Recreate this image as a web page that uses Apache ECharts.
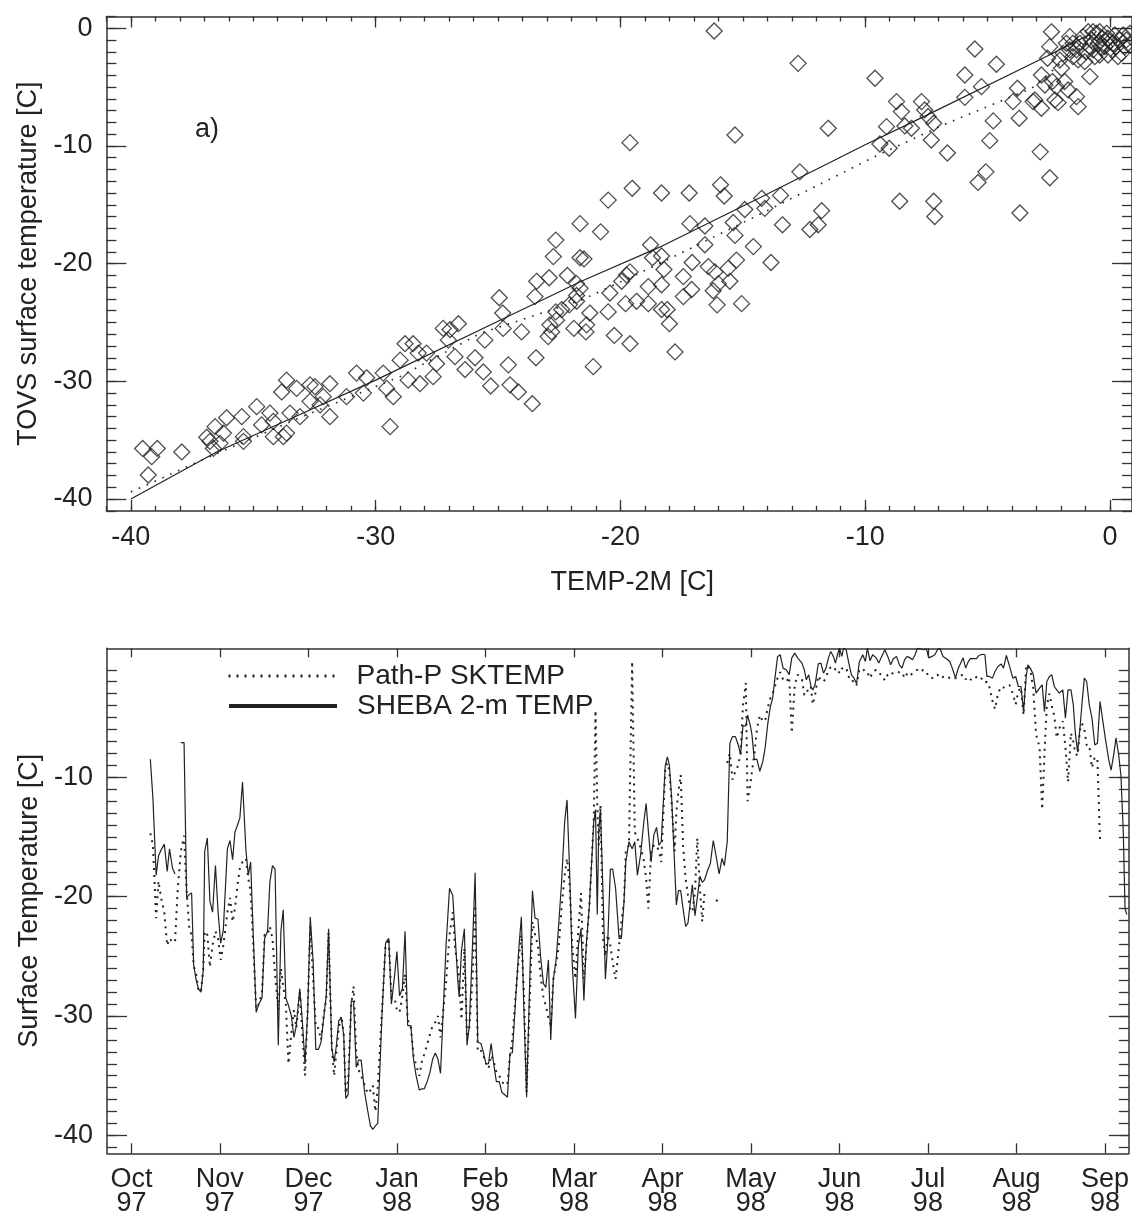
<!DOCTYPE html>
<html><head><meta charset="utf-8">
<script src="https://cdn.jsdelivr.net/npm/echarts@6/dist/echarts.min.js"></script>
<style>html,body{margin:0;padding:0;background:#fff}#c{width:1132px;height:1217px}</style>
</head><body><div id="c"></div>
<script>
// ---------- panel a) scatter ----------
const tovsX = [
-39.52,-38.92,-39.15,-39.29,-37.92,-36.9,-36.56,-36.77,-36.63,-36.36,-36.22,-36.09,-35.47,-35.4,-35.4,-34.86,-34.66,-34.32,-34.18,-34.18,
-33.84,-33.64,-33.77,-33.64,-33.5,-33.23,-33.09,-32.68,-32.68,-32.48,-32.27,-32.14,-31.87,-31.87,-31.19,-30.78,-30.5,-30.37,-29.69,-29.55,
-29.41,-29.28,-29.0,-28.8,-28.67,-28.47,-28.26,-28.19,-27.92,-27.65,-27.51,-27.24,-27.03,-26.96,-26.76,-26.62,-26.35,-25.94,
-16.17,-12.74,-9.6,-19.61,-15.32,-11.51,-19.52,-20.5,-18.32,-17.19,-15.91,-15.76,-12.67,-13.46,-14.23,-14.1,-14.92,-11.78,-11.92,-12.26,
-13.38,-15.39,-15.32,-16.55,-17.16,-16.55,-18.77,-18.32,-18.22,-18.69,-15.26,-14.57,-13.85,-17.07,-16.41,-16.14,-16.0,-15.6,-15.53,-16.21,
-16.05,-15.05,-17.43,-17.09,-17.43,-18.32,-18.32,-18.09,-18.0,-17.77,-18.86,-18.86,-19.34,-19.75,-19.61,-19.95,-19.79,-20.43,-20.5,-20.25,
-19.61,-21.11,-21.65,-20.81,-22.64,-22.74,-22.91,-22.17,-21.65,-21.49,-23.42,-23.49,-24.95,-24.81,-24.79,-24.04,-22.64,-22.4,-22.09,-21.79,
-21.65,-21.79,-21.79,-21.25,-21.38,-21.41,-21.9,-22.88,-22.95,-22.81,-22.61,-25.54,-25.6,-25.3,-24.58,-24.51,-24.17,-23.6,-23.45,
-5.52,-4.64,-5.93,-5.25,-5.93,-3.78,-3.96,-3.71,-4.77,-4.91,-6.64,-2.85,-5.07,-5.39,-2.46,-3.68,-8.59,-7.2,-7.16,
-8.72,-9.13,-9.4,-9.02,-8.52,-8.38,-8.11,-7.7,-7.57,-7.43,-7.2,-7.3,-2.39,-2.46,-2.55,-2.8,-2.66,-2.35,-2.19,-2.25,
-3.07,-3.14,-2.8,-2.12,-1.85,-1.71,-1.64,-1.51,-1.37,-1.3,-1.03,-0.82,-1.98,-2.05,
-1.23,-1.1,-0.89,-0.76,-0.69,-0.55,-0.48,-0.42,-0.31,-0.21,-0.14,-0.08,-0.01,0.1,0.2,0.26,0.33,0.4,0.54,0.6,
0.67,0.81,0.84,-0.62,-0.82,-0.96,-1.37,-1.3,-0.35,0.13,0.47,-0.42,-0.08,-0.69,-1.51,-1.64,-1.91,-1.78
];
const tovsY = [
-35.7,-35.7,-36.4,-37.96,-36.0,-34.75,-33.85,-35.1,-35.7,-35.27,-34.4,-33.1,-33.0,-34.7,-35.1,-32.15,-33.7,-32.7,-33.4,-34.7,
-30.9,-29.9,-34.7,-34.4,-32.7,-30.6,-33.0,-30.3,-31.7,-30.45,-32.0,-31.3,-30.2,-33.0,-31.3,-29.3,-31.0,-29.7,-29.3,-30.6,
-33.85,-31.3,-28.2,-26.8,-29.9,-26.8,-27.6,-30.2,-27.6,-29.6,-28.5,-25.5,-26.5,-25.6,-27.9,-25.1,-29.0,-28.0,
-0.23,-2.98,-4.25,-9.72,-9.07,-8.5,-13.6,-14.6,-14.0,-14.0,-13.3,-14.25,-12.2,-14.2,-14.45,-15.3,-15.4,-15.5,-16.7,-17.1,
-16.7,-16.5,-17.6,-16.8,-16.6,-18.4,-18.4,-19.35,-20.5,-19.5,-19.7,-18.55,-19.9,-19.9,-20.25,-20.7,-21.7,-20.4,-21.5,-22.3,
-23.5,-23.4,-21.1,-22.2,-22.8,-21.8,-23.9,-23.9,-25.1,-27.5,-21.95,-23.4,-23.2,-20.96,-20.7,-21.5,-23.4,-22.5,-24.1,-26.1,
-26.8,-28.75,-16.6,-17.3,-18.0,-19.4,-21.2,-21.0,-19.5,-19.6,-21.5,-22.8,-22.9,-24.2,-25.5,-25.8,-24.1,-23.9,-23.5,-21.7,
-22.1,-22.7,-23.2,-24.2,-25.2,-25.8,-25.5,-25.2,-26.2,-25.8,-24.8,-26.5,-29.2,-30.4,-28.6,-30.3,-30.9,-31.9,-28.0,
-1.76,-3.06,-3.97,-4.96,-5.87,-5.1,-6.23,-7.65,-7.87,-9.55,-10.6,-10.5,-12.2,-13.1,-12.7,-15.7,-14.7,-14.7,-16.0,
-6.23,-8.36,-9.83,-10.2,-7.08,-8.3,-8.5,-6.23,-6.94,-7.5,-8.07,-9.5,-0.3,-1.56,-2.55,-3.97,-4.82,-4.53,-4.96,-6.09,
-6.09,-6.23,-6.8,-6.32,-4.53,-5.24,-0.71,-2.41,-5.81,-6.66,-2.84,-4.11,-3.4,-2.7,
-1.28,-0.71,-0.29,-0.99,-1.84,-0.43,-1.28,-2.27,-0.85,-1.56,-0.43,-2.27,-1.14,-1.84,-0.57,-1.56,-2.41,-0.99,-0.57,-1.56,
-0.99,-0.43,-1.42,-2.41,-1.56,-1.98,-1.84,-2.69,-1.7,-1.28,-2.13,-0.29,-0.85,-0.29,-1.28,-1.84,-2.13,-1.28
];
const fitSolidX = [-40,-36.5,-33.5,-30,-25,-21.6,-18.4,-14.2,-10,-7.5,-2.7,-0.8];
const fitSolidY = [-40,-36,-33.2,-29.9,-24.9,-21.5,-18.6,-14.3,-9.9,-7.4,-2.5,-0.5];
const fitDotX = [-40,-37,-33,-29,-25.7,-21.6,-18.4,-14.2,-9.6,-6.8,-3.2,-1.9,-0.8];
const fitDotY = [-39.4,-36.6,-33.0,-29.6,-25.9,-23.1,-20.0,-15.7,-10.9,-8.2,-5.1,-2.8,-1.0];
const aTicks = [-40,-30,-20,-10,0];

// ---------- panel b) time series (x: days after 1 Oct 1997) ----------
const dayOfYear = [
6.5,7.4,8.5,9.3,10.2,11.3,12.3,13.1,14.1,15.0,15.9,17.0,18.1,19.0,19.9,20.7,21.4,22.2,23.0,23.9,
24.7,25.2,26.1,27.0,27.9,28.9,29.8,30.7,31.6,33.0,33.9,34.8,35.6,36.5,37.3,38.2,39.4,40.2,41.0,41.9,
42.9,43.8,44.9,45.8,46.8,47.6,48.5,49.4,50.5,51.4,52.2,53.1,54.0,55.0,55.9,56.7,57.9,58.8,59.7,60.6,
61.5,62.5,63.4,64.3,65.2,66.1,67.0,67.8,68.9,69.7,70.5,71.3,72.2,73.0,73.7,74.5,75.6,76.4,77.3,78.1,
79.0,80.2,81.3,82.2,83.0,83.9,84.7,86.2,87.4,88.5,89.4,90.5,91.3,92.2,93.2,94.1,95.0,96.1,97.0,97.9,
99.0,99.9,100.7,101.7,102.7,103.6,104.5,105.4,106.3,108.2,109.4,110.5,111.3,112.2,112.7,113.5,114.5,115.4,116.2,117.3,
118.2,119.1,120.2,121.0,121.9,122.8,123.7,124.5,125.5,126.5,127.4,128.4,129.3,130.2,131.0,132.2,133.3,134.1,135.0,135.9,
137.0,137.9,138.8,139.8,140.7,141.7,142.5,143.4,144.2,145.1,146.1,147.0,147.9,149.0,149.8,150.7,151.6,152.7,153.7,154.6,
155.6,156.4,157.5,159.0,159.6,160.2,160.7,161.3,162.2,163.0,163.8,164.7,165.5,166.5,167.7,168.5,169.4,170.0,171.1,172.2,
173.1,174.0,175.1,176.1,177.0,177.8,178.7,179.7,180.6,181.4,182.2,183.6,184.3,185.0,185.8,186.8,187.4,188.1,188.9,189.7,
190.6,191.4,192.1,192.9,193.8,194.6,195.5,196.3,197.1,198.0,199.1,200.1,201.0,202.1,203.1,203.9,204.9,205.8,206.7,207.7,
208.7,209.5,210.3,211.3,211.9,212.9,213.4,214.2,215.1,216.1,217.1,217.9,218.8,219.7,220.5,221.3,222.2,223.1,224.1,225.2,
226.2,227.1,228.1,229.1,230.6,231.4,232.1,232.9,233.7,234.3,235.1,236.2,237.1,238.0,238.8,239.7,240.5,241.4,242.1,242.8,
243.5,244.3,244.9,245.8,246.7,247.6,248.5,249.4,250.3,251.5,252.4,253.1,254.0,254.9,256.1,257.0,258.0,259.1,260.1,261.1,
262.0,263.1,264.1,265.0,265.9,266.8,267.7,268.6,269.5,270.3,271.4,272.3,273.4,274.2,275.3,276.3,277.2,278.0,279.1,280.3,
281.4,282.3,283.4,284.3,285.2,286.0,286.9,287.7,288.5,289.4,290.6,291.5,292.6,293.5,294.2,295.1,296.1,297.0,298.0,299.1,
299.9,300.9,302.0,303.1,304.1,305.0,305.9,306.8,307.7,308.3,309.1,310.1,311.1,312.3,313.2,314.0,314.8,315.7,316.5,317.4,
318.2,319.1,320.3,321.2,322.1,323.1,323.9,324.6,325.4,326.2,326.9,327.7,328.5,329.4,330.3,331.3,332.2,333.1,334.0,334.9,
336.1,336.9,337.8,338.6,339.5,340.3,341.1,341.7,342.3
];
const shebaTemp = [
-8.5,-11.8,-18.2,-16.6,-16.1,-15.6,-17.9,-16.0,-17.6,-18.1,null,-7.1,-7.1,-20.1,-19.8,-19.7,-25.7,-26.9,-27.7,-28.0,
-26.2,-16.2,-15.1,-20.4,-21.3,-17.4,-21.3,-23.9,-22.8,-16.0,-15.3,-16.9,-14.6,-14.0,-13.4,-10.4,-16.2,-18.2,-17.1,-23.2,
-29.7,-29.0,-28.5,-23.5,-22.9,-18.8,-17.4,-17.7,-32.45,-22.9,-21.1,-28.5,-29.1,-30.0,-31.8,-30.8,-27.7,-30.5,-34.0,-29.7,
-21.7,-25.5,-32.8,-32.8,-32.2,-30.2,-28.3,-22.7,-32.7,-33.85,-32.45,-30.4,-30.2,-31.6,-36.9,-36.6,-28.7,-28.8,-34.3,-33.7,
-33.7,-36.4,-38.0,-39.2,-39.5,-39.2,-39.0,-29.7,-23.9,-23.5,-29.0,-26.6,-24.6,-28.3,-27.7,-22.9,-30.8,-30.8,-33.6,-35.0,
-36.2,-36.1,-36.1,-35.5,-34.7,-33.6,-33.1,-33.6,-34.8,-24.1,-19.3,-19.9,-23.2,-26.9,-28.4,-24.5,-22.7,-32.45,-30.8,-24.1,
-18.0,-32.2,-32.3,-33.0,-34.0,-34.0,-32.3,-33.85,-35.5,-35.5,-36.4,-36.6,-36.8,-33.1,-33.1,-28.3,-24.1,-21.7,-29.7,-36.8,
-26.9,-19.5,-21.8,-21.9,-25.0,-27.3,-27.6,-25.3,-32.0,-26.9,-25.2,-22.1,-18.9,-13.7,-11.9,-17.9,-25.7,-30.2,-24.1,-22.7,
-28.7,-24.1,-20.7,-13.7,-12.7,-21.5,-14.6,-12.7,-19.9,-26.9,-23.8,-17.7,-17.7,-19.3,-23.5,-23.5,-20.4,-17.1,-15.4,-16.0,
-15.4,-18.2,-16.5,-14.0,-12.2,-14.6,-17.1,-14.8,-14.2,-15.7,-15.4,-9.0,-8.3,-9.0,-11.8,-17.4,-20.7,-19.5,-19.5,-21.0,
-22.5,-22.2,-20.7,-19.0,-21.6,-20.1,-18.3,-18.8,-18.6,-17.9,-17.2,-15.3,-16.5,-18.1,-16.8,-17.4,-15.4,-7.15,-6.6,-6.6,
-7.3,-8.1,-5.7,-5.7,-4.8,-5.75,-6.45,-8.5,-8.5,-9.5,-8.7,-7.6,-5.6,-4.1,-3.4,-1.7,0.1,0.26,-0.86,-1.0,
-1.4,0,0.4,0,-0.44,-1.0,-1.84,-1.42,-2.4,-2.7,-2.26,-0.5,-0.44,-1.28,-0.9,0,0.54,0.12,-0.44,0.26,
0.82,0.12,0.82,0.68,-0.44,-1.42,-1.7,-2.17,-0.36,0.26,-0.3,0.82,-0.24,0.26,0,-0.44,0.12,0.68,0.12,-0.58,
-0.07,0.12,-0.58,-0.86,-0.16,0.12,0,-0.16,0.26,0.82,0.76,0.68,0.76,0,0.12,0.26,0.68,0.82,0.12,-0.07,
-0.3,-0.86,-1.7,-0.9,-0.44,0,-0.86,-0.36,-0.07,-0.07,-0.07,0.2,0.3,0.26,-1.56,-1.56,-1.7,-1.14,-0.72,-0.52,
-0.86,0.2,-0.72,-1.7,-1.56,-2.4,-2.4,-4.5,-1.56,-0.58,-0.86,-1.36,-2.95,-2.54,-2.26,-4.5,-1.98,-1.56,-1.42,-2.4,
-2.68,-2.95,-2.68,-5.05,-2.68,-2.68,-3.93,-6.3,-7.9,-5.9,-3.8,-1.7,-1.98,-3.93,-5.0,-7.3,-7.15,-3.65,-5.2,-6.7,
-8.55,-9.4,-8.1,-6.7,-8.1,-9.9,-14.6,-21.0,-21.5
];
const pathpTemp = [
-14.7,-15.7,-21.8,-18.7,-20.1,-21.3,-24.1,-23.5,-23.8,-23.8,-19.5,-16.2,-14.9,-19.6,-22.7,-23.2,-25.8,-26.4,-27.8,-28.0,
-26.0,-22.9,-23.2,-25.9,-24.1,-22.9,-23.5,-25.3,-24.1,-21.3,-20.1,-22.1,-21.0,-19.0,-17.6,-17.1,-16.8,-18.5,-19.6,-24.1,
-29.4,-29.0,-28.0,-23.2,-23.2,-22.5,-23.5,-26.5,-29.5,-26.0,-27.5,-29.0,-34.0,-31.5,-29.5,-31.0,-28.0,-31.5,-35.0,-29.5,
-22.5,-27.0,-31.0,-31.0,-32.0,-30.0,-28.5,-23.0,-32.5,-35.0,-33.0,-31.0,-30.0,-31.5,-36.5,-35.5,-29.0,-27.5,-33.0,-34.5,
-35.0,-35.8,-36.5,-36.2,-35.8,-38.0,-36.0,-29.5,-24.0,-23.5,-28.5,-28.5,-29.5,-29.7,-28.3,-26.5,-30.3,-31.0,-33.3,-34.1,
-35.0,-33.8,-33.2,-32.4,-31.5,-30.8,-30.5,-30.0,-31.8,-27.2,-23.2,-21.3,-24.3,-25.8,-26.9,-30.3,-24.3,-31.8,-31.0,-26.9,
-20.7,-33.0,-32.9,-33.3,-33.9,-34.4,-33.3,-33.7,-34.7,-35.0,-35.5,-35.8,-35.7,-33.3,-32.0,-28.0,-24.9,-23.2,-28.3,-36.4,
-28.5,-22.1,-23.2,-24.1,-26.6,-28.5,-29.1,-30.2,-30.8,-26.9,-25.5,-24.1,-21.0,-18.2,-16.8,-19.0,-24.1,-26.9,-22.8,-19.7,
-26.9,-24.4,-20.7,-13.5,-4.4,-12.3,-15.7,-12.3,-23.5,-25.0,-23.2,-24.1,-25.5,-26.9,-24.1,-22.1,-20.4,-16.2,-15.7,-0.3,
-14.6,-15.1,-15.9,-16.8,-18.5,-21.0,-16.2,-15.7,-15.7,-16.2,-17.1,-9.2,-8.8,-9.5,-12.3,-16.2,-12.9,-11.2,-9.8,-15.7,
-18.5,-19.9,-21.0,-21.3,-19.6,-15.1,-19.3,-22.1,-19.6,null,null,null,-20.3,-20.4,null,null,-8.8,-8.0,-10.2,-9.5,
-9.0,-8.0,-4.0,-2.1,-12.0,-10.5,-9.5,-8.1,-6.0,-4.8,-5.3,-5.3,-4.2,-3.4,-3.0,-2.4,-1.7,-1.2,-1.8,-2.0,
-1.6,-6.3,-2.3,-1.4,-1.8,-3.1,-3.1,-2.4,-2.5,-3.9,-3.1,-1.5,-1.9,-2.0,-1.7,-1.0,-0.8,-0.7,-1.0,-0.9,
-1.3,-0.9,-0.9,-0.8,-1.6,-2.0,-1.9,-2.3,-1.0,-0.9,-1.2,-1.2,-1.7,-1.2,-1.0,-1.3,-1.4,-1.9,-1.4,-1.5,
-1.2,-1.2,-1.2,-1.2,-1.7,-1.3,-1.5,-1.3,-1.1,-1.0,-1.2,-1.0,-1.2,-1.6,-1.7,-1.6,-1.4,-1.7,-1.6,-1.5,
-1.7,-1.8,-1.7,-1.6,-1.5,-1.4,-1.8,-1.6,-1.8,-1.9,-1.6,-1.5,-1.8,-2.1,-2.0,-2.5,-3.6,-4.3,-3.0,-2.4,
-2.5,-2.3,-2.3,-3.0,-3.9,-2.8,-2.5,-4.8,-0.6,-0.5,-1.0,-2.5,-6.4,-7.5,-12.7,-8.0,-4.0,-3.0,-4.0,-4.9,
-6.7,-5.9,-5.3,-7.5,-10.4,-6.3,-7.0,-8.0,-8.2,-6.0,-5.5,-6.0,-7.3,-7.3,-9.2,-8.3,-8.5,-15.3,null,null,
null,null,null,null,null,null,null,null,null
];
const monthTicks = [0,30.4,60.9,91.3,121.7,152.2,182.6,213.0,243.5,273.9,304.4,334.8];
const monthNames = ['Oct','Nov','Dec','Jan','Feb','Mar','Apr','May','Jun','Jul','Aug','Sep'];
const monthYears = ['97','97','97','98','98','98','98','98','98','98','98','98'];
const bTicks = [-40,-30,-20,-10];

// ---------- helpers ----------
const FONT = 'Liberation Sans';
const INK = '#222';
const AXC = '#333';
function range(a, b) { const r = []; for (let v = a; v <= b; v++) r.push(v); return r; }
function axisPair(grid, min, max, pos, major, minor, majLen, minLen, label, extra) {
  const out = [Object.assign({
    type: 'value', gridIndex: grid, min: min, max: max, position: pos,
    axisLine: { show: true, onZero: false, lineStyle: { color: AXC, width: 1.5 } },
    axisTick: { show: true, inside: true, length: majLen, customValues: major, lineStyle: { color: AXC, width: 1.3 } },
    axisLabel: label ? Object.assign({ show: true, customValues: major, color: INK, fontFamily: FONT, fontSize: 27 }, label) : { show: false },
    splitLine: { show: false }
  }, extra || {})];
  if (minor) out.push({
    type: 'value', gridIndex: grid, min: min, max: max, position: pos,
    axisLine: { show: false, onZero: false },
    axisTick: { show: true, inside: true, length: minLen, customValues: minor, lineStyle: { color: AXC, width: 1.3 } },
    axisLabel: { show: false }, splitLine: { show: false }
  });
  return out;
}
const nameStyle = { color: INK, fontFamily: FONT, fontSize: 27 };

const xAxes = [].concat(
  axisPair(0, -41, 0.9, 'bottom', aTicks, range(-41, 0), 11, 5, { margin: 13 },
    { name: 'TEMP-2M [C]', nameLocation: 'middle', nameGap: 58, nameTextStyle: Object.assign({ padding: [0, 0, 0, 26] }, nameStyle) }),
  axisPair(0, -41, 0.9, 'top', aTicks, range(-41, 0), 11, 5, null),
  axisPair(1, -8.4, 343, 'bottom', monthTicks, null, 10, 0, {
    margin: 14, lineHeight: 24,
    formatter: function (v) {
      const k = monthTicks.findIndex(function (t) { return Math.abs(t - v) < 0.05; });
      return k >= 0 ? monthNames[k] + '\n' + monthYears[k] : '';
    }
  }),
  axisPair(1, -8.4, 343, 'top', monthTicks, null, 9, 0, null)
);
const yAxes = [].concat(
  axisPair(0, -41, 1, 'left', aTicks, range(-41, 1), 20, 10, { margin: 14 },
    { name: 'TOVS surface temperature [C]', nameLocation: 'middle', nameGap: 61, nameTextStyle: nameStyle }),
  axisPair(0, -41, 1, 'right', aTicks, range(-41, 1), 20, 10, null),
  axisPair(1, -41.5, 0.8, 'left', bTicks, range(-41, -1), 20, 10, { margin: 14 },
    { name: 'Surface Temperature [C]', nameLocation: 'middle', nameGap: 61, nameTextStyle: nameStyle }),
  axisPair(1, -41.5, 0.8, 'right', bTicks, range(-41, -1), 20, 10, null)
);

const hiddenSymbol = { color: 'rgba(0,0,0,0)', borderColor: 'rgba(0,0,0,0)', borderWidth: 0, opacity: 0 };
const chart = echarts.init(document.getElementById('c'), null, { renderer: 'canvas' });
chart.setOption({
  animation: false,
  backgroundColor: '#ffffff',
  grid: [
    { left: 106.4, top: 16.5, width: 1025.6, height: 494.3 },
    { left: 107, top: 648.3, width: 1025, height: 505 }
  ],
  xAxis: xAxes,
  yAxis: yAxes,
  legend: [
    { show: true, left: 227, top: 662, itemWidth: 108, itemHeight: 12, padding: 0,
      textStyle: { color: INK, fontFamily: FONT, fontSize: 28, padding: [0, 0, 0, 15] },
      data: [{ name: 'Path-P SKTEMP', itemStyle: hiddenSymbol, lineStyle: { width: 3, type: [2, 6], color: INK } }] },
    { show: true, left: 227, top: 692, itemWidth: 108, itemHeight: 12, padding: 0,
      textStyle: { color: INK, fontFamily: FONT, fontSize: 28, padding: [0, 0, 0, 15] },
      data: [{ name: 'SHEBA 2-m TEMP', itemStyle: hiddenSymbol, lineStyle: { width: 4, color: INK } }] }
  ],
  graphic: [
    { type: 'text', left: 195, top: 116, style: { text: 'a)', font: '27px "Liberation Sans"', fill: INK } }
  ],
  series: [
    { type: 'scatter', xAxisIndex: 0, yAxisIndex: 0, symbol: 'diamond', symbolSize: 16,
      itemStyle: { color: 'rgba(0,0,0,0)', borderColor: INK, borderWidth: 1.3 },
      data: tovsX.map(function (x, i) { return [x, tovsY[i]]; }), z: 3 },
    { type: 'line', xAxisIndex: 0, yAxisIndex: 0, symbol: 'none',
      lineStyle: { color: INK, width: 1.2 },
      data: fitSolidX.map(function (x, i) { return [x, fitSolidY[i]]; }), z: 2 },
    { type: 'line', xAxisIndex: 0, yAxisIndex: 0, symbol: 'none',
      lineStyle: { color: INK, width: 1.6, type: [1.6, 7] },
      data: fitDotX.map(function (x, i) { return [x, fitDotY[i]]; }), z: 2 },
    { name: 'Path-P SKTEMP', type: 'line', xAxisIndex: 4, yAxisIndex: 4, symbol: 'none', connectNulls: false,
      itemStyle: { color: INK },
      lineStyle: { color: INK, width: 2, type: [2, 5] },
      data: dayOfYear.map(function (d, i) { return [d, pathpTemp[i]]; }) },
    { name: 'SHEBA 2-m TEMP', type: 'line', xAxisIndex: 4, yAxisIndex: 4, symbol: 'none', connectNulls: false,
      itemStyle: { color: INK },
      lineStyle: { color: INK, width: 1.2 },
      data: dayOfYear.map(function (d, i) { return [d, shebaTemp[i]]; }) }
  ]
});
</script>
</body></html>
